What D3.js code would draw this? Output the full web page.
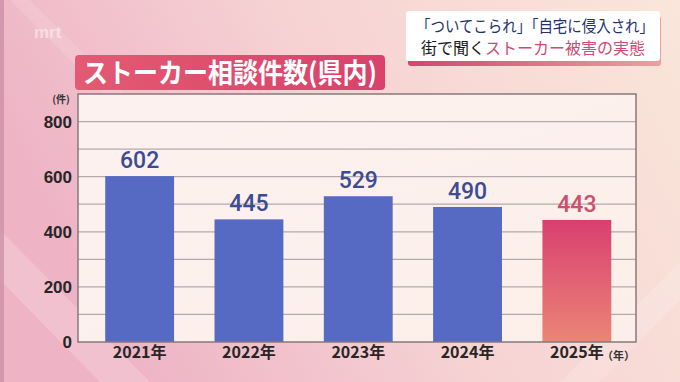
<!DOCTYPE html>
<html><head><meta charset="utf-8">
<script src="https://cdn.jsdelivr.net/npm/d3@7"></script>
<style>html,body{margin:0;padding:0;overflow:hidden;background:#f3c9d3}</style>
</head><body><svg id="c" width="680" height="382"></svg>
<script>
const categories = ["2021年","2022年","2023年","2024年","2025年"];
const values = [602, 445, 529, 490, 443];
const yTicks = [0, 200, 400, 600, 800];
const gridTicks = [100,200,300,400,500,600,700,800];
const title = "ストーカー相談件数(県内)";
const yUnit = "(件)";
const xUnit = "（年）";

const svg = d3.select("#c");
const W = 680, H = 382;
const F = "'Noto Sans CJK JP','Noto Sans',sans-serif";
const defs = svg.append("defs");

const bg = defs.append("linearGradient").attr("id","bg").attr("x1","0").attr("y1","0.3").attr("x2","1").attr("y2","0");
bg.append("stop").attr("offset","0").attr("stop-color","#eeb4c6");
bg.append("stop").attr("offset","0.45").attr("stop-color","#f6d2d3");
bg.append("stop").attr("offset","1").attr("stop-color","#fae6da");
const plotBg = defs.append("linearGradient").attr("id","pbg").attr("x1","0").attr("y1","0").attr("x2","1").attr("y2","1");
plotBg.append("stop").attr("offset","0").attr("stop-color","#fdf1ef");
plotBg.append("stop").attr("offset","1").attr("stop-color","#fcefe9");
const hl = defs.append("linearGradient").attr("id","hl").attr("x1","0").attr("y1","0").attr("x2","1").attr("y2","0");
hl.append("stop").attr("offset","0").attr("stop-color","#e35a72");
hl.append("stop").attr("offset","1").attr("stop-color","#d9416c");
const g25 = defs.append("linearGradient").attr("id","g25").attr("x1","0").attr("y1","0").attr("x2","0").attr("y2","1");
g25.append("stop").attr("offset","0").attr("stop-color","#d93f70");
g25.append("stop").attr("offset","1").attr("stop-color","#eb8576");
const uline = defs.append("linearGradient").attr("id","ul").attr("x1","0").attr("y1","0").attr("x2","1").attr("y2","0");
uline.append("stop").attr("offset","0").attr("stop-color","#d2466e");
uline.append("stop").attr("offset","1").attr("stop-color","#eaa0a0");

// background
svg.append("rect").attr("width",W).attr("height",H).attr("fill","url(#bg)");
svg.append("path").attr("d","M0,230 L150,382 L100,382 L0,280 Z").attr("fill","#fff").attr("opacity",0.18);
svg.append("path").attr("d","M30,0 L130,100 L110,100 L10,0 Z").attr("fill","#fff").attr("opacity",0.12);
svg.append("path").attr("d","M560,382 L680,262 L680,300 L600,382 Z").attr("fill","#fff").attr("opacity",0.15);
svg.append("rect").attr("x",0).attr("y",0).attr("width",4).attr("height",H).attr("fill","#c98aa2").attr("opacity",0.7);

// logo
svg.append("text").attr("x",34).attr("y",38).attr("font-family","Arial,'Liberation Sans',sans-serif").attr("font-size",17).attr("font-weight","bold")
  .attr("fill","#fff").attr("opacity",0.45).text("mrt");

// top-right caption box
svg.append("rect").attr("x",408).attr("y",16).attr("width",253).attr("height",50).attr("rx",3).attr("fill","url(#ul)");
svg.append("rect").attr("x",406).attr("y",11).attr("width",254).attr("height",50).attr("rx",3).attr("fill","#ffffff");
svg.append("text").attr("x",535).attr("y",32).attr("text-anchor","middle").attr("font-family",F).attr("font-size",16)
  .attr("fill","#23306e").attr("textLength",238).attr("lengthAdjust","spacingAndGlyphs").text("「ついてこられ」「自宅に侵入され」");
const t2 = svg.append("text").attr("x",533).attr("y",54).attr("text-anchor","middle").attr("font-family",F).attr("font-size",16);
t2.append("tspan").attr("fill","#1a1a1a").text("街で聞く");
t2.append("tspan").attr("fill","#d04a72").text("ストーカー被害の実態");

// title
svg.append("rect").attr("x",75).attr("y",55).attr("width",310).attr("height",35).attr("rx",4).attr("fill","url(#hl)");
svg.append("text").attr("x",230).attr("y",83).attr("text-anchor","middle").attr("font-family",F).attr("font-size",27).attr("font-weight","bold")
  .attr("fill","#fff").attr("textLength",294).attr("lengthAdjust","spacingAndGlyphs").text(title);

// plot
const x0 = 78, x1 = 636, yTop = 94, yBot = 342;
const y = d3.scaleLinear().domain([0, 900]).range([yBot, yTop]);
const x = d3.scaleBand().domain(categories).range([85, 631.5]).paddingInner(0.37).paddingOuter(0.185);

svg.append("rect").attr("x",x0).attr("y",yTop).attr("width",x1-x0).attr("height",yBot-yTop).attr("fill","url(#pbg)");
svg.append("g").selectAll("line").data(gridTicks).join("line")
  .attr("x1",x0).attr("x2",x1).attr("y1",d=>y(d)).attr("y2",d=>y(d))
  .attr("stroke","#b5aaaa").attr("stroke-width",1.2);

svg.append("g").selectAll("rect").data(values).join("rect")
  .attr("x",(d,i)=>x(categories[i])).attr("width",x.bandwidth())
  .attr("y",d=>y(d)).attr("height",d=>yBot-y(d))
  .attr("fill",(d,i)=> i===values.length-1 ? "url(#g25)" : "#5669c3");

svg.append("rect").attr("x",x0).attr("y",yTop).attr("width",x1-x0).attr("height",yBot-yTop)
  .attr("fill","none").attr("stroke","#857a7c").attr("stroke-width",1.5);

// value labels
svg.append("g").selectAll("text").data(values).join("text")
  .attr("x",(d,i)=>x(categories[i])+x.bandwidth()/2).attr("y",d=>y(d)-8)
  .attr("text-anchor","middle").attr("font-family","Roboto,'Liberation Sans',Arial,sans-serif").attr("font-size",23).attr("font-weight",500)
  .attr("fill",(d,i)=> i===values.length-1 ? "#cc4f6c" : "#3b4c94").text(d=>d);

// y axis labels
const yAxis = d3.axisLeft(y).tickValues(yTicks).tickSize(0).tickPadding(6);
const ya = svg.append("g").attr("transform",`translate(${x0},0)`).call(yAxis);
ya.select(".domain").remove();
ya.selectAll("text").attr("font-family","'Liberation Sans',Arial,sans-serif").attr("font-size",17).attr("font-weight","bold").attr("fill","#262626");
svg.append("text").attr("x",61).attr("y",103).attr("text-anchor","middle").attr("font-family",F).attr("font-size",10).attr("font-weight","bold").attr("fill","#333").text(yUnit);

// x axis labels
const xAxis = d3.axisBottom(x).tickSize(0).tickPadding(5);
const xa = svg.append("g").attr("transform",`translate(0,${yBot})`).call(xAxis);
xa.select(".domain").remove();
xa.selectAll("text").attr("font-family",F).attr("font-size",16).attr("font-weight","bold").attr("fill","#262626");
svg.append("text").attr("x",602).attr("y",360).attr("font-family",F).attr("font-size",11).attr("font-weight","bold").attr("fill","#333").text(xUnit);
</script></body></html>
